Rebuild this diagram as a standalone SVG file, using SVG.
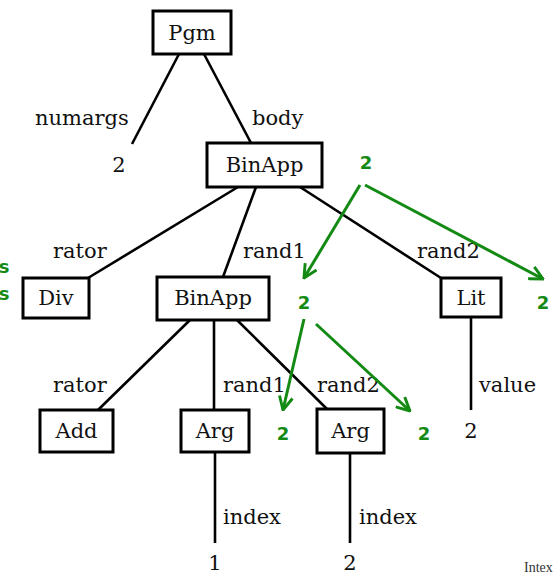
<svg xmlns="http://www.w3.org/2000/svg" width="557" height="574" viewBox="0 0 557 574">
<style>
.box{fill:#fff;stroke:#000;stroke-width:3}
.lbl{font-family:"DejaVu Serif","Liberation Serif",serif;font-size:21px;fill:#111}
.nt{font-family:"DejaVu Serif","Liberation Serif",serif;font-size:21px;fill:#111;text-anchor:middle}
.edge{stroke:#000;stroke-width:2.6;fill:none}
.g{font-family:"DejaVu Sans","Open Sans",sans-serif;font-weight:bold;font-size:18px;fill:#138a13;text-anchor:middle}
.ga{stroke:#138a13;stroke-width:3;fill:none;marker-end:url(#ah)}
</style>
<defs>
<marker id="ah" viewBox="0 0 12 12" refX="11" refY="6" markerWidth="16" markerHeight="16" markerUnits="userSpaceOnUse" orient="auto">
<path d="M1,1 L11,6 L1,11" fill="none" stroke="#138a13" stroke-width="2.2"/>
</marker>
</defs>
<rect width="557" height="574" fill="#fff"/>
<g id="connectors">
<line class="edge" x1="179" y1="54" x2="132" y2="144"/>
<line class="edge" x1="204" y1="54" x2="251" y2="143"/>
<line class="edge" x1="238" y1="187" x2="88" y2="278"/>
<line class="edge" x1="256" y1="187" x2="223" y2="277"/>
<line class="edge" x1="300" y1="187" x2="441" y2="278"/>
<line class="edge" x1="190" y1="320" x2="98" y2="410"/>
<line class="edge" x1="214" y1="320" x2="214" y2="410"/>
<line class="edge" x1="237" y1="320" x2="327" y2="409"/>
<line class="edge" x1="471" y1="317" x2="471" y2="410"/>
<line class="edge" x1="215" y1="453" x2="215" y2="543"/>
<line class="edge" x1="350" y1="453" x2="350" y2="543"/>
<text class="lbl" x="35" y="125">numargs</text>
<text class="lbl" x="252" y="125">body</text>
<text class="lbl" x="53" y="258">rator</text>
<text class="lbl" x="243" y="258">rand1</text>
<text class="lbl" x="417" y="258">rand2</text>
<text class="lbl" x="53" y="392">rator</text>
<text class="lbl" x="223" y="392">rand1</text>
<text class="lbl" x="317" y="392">rand2</text>
<text class="lbl" x="479" y="392">value</text>
<text class="lbl" x="223" y="524">index</text>
<text class="lbl" x="359" y="524">index</text>
</g>
<g id="pgm"><rect class="box" x="153" y="11" width="78" height="43"/><text class="nt" x="192" y="40">Pgm</text></g>
<g id="numargs-val"><text class="nt" x="119" y="172">2</text></g>
<g id="binapp1"><rect class="box" x="207" y="143" width="115" height="44"/><text class="nt" x="264.5" y="172">BinApp</text></g>
<g id="div"><rect class="box" x="23" y="278" width="66" height="40"/><text class="nt" x="56" y="305">Div</text></g>
<g id="binapp2"><rect class="box" x="157" y="277" width="112" height="43"/><text class="nt" x="213" y="305">BinApp</text></g>
<g id="lit"><rect class="box" x="441" y="278" width="60" height="39"/><text class="nt" x="471" y="305">Lit</text></g>
<g id="lit-val"><text class="nt" x="471" y="438">2</text></g>
<g id="add"><rect class="box" x="40" y="410" width="73" height="42"/><text class="nt" x="76.5" y="438">Add</text></g>
<g id="arg1"><rect class="box" x="181" y="410" width="68" height="42"/><text class="nt" x="215" y="438">Arg</text></g>
<g id="arg1-val"><text class="nt" x="215" y="570">1</text></g>
<g id="arg2"><rect class="box" x="317" y="409" width="67" height="44"/><text class="nt" x="350.5" y="438">Arg</text></g>
<g id="arg2-val"><text class="nt" x="350" y="570">2</text></g>
<g id="annotations">
<text class="g" x="366" y="169">2</text>
<text class="g" x="304" y="309">2</text>
<text class="g" x="543" y="309">2</text>
<text class="g" x="283" y="440">2</text>
<text class="g" x="424" y="440">2</text>
<text class="g" x="4" y="273">s</text>
<text class="g" x="4" y="300">s</text>
<line class="ga" x1="360" y1="185" x2="304" y2="278"/>
<line class="ga" x1="365" y1="185" x2="543" y2="279"/>
<line class="ga" x1="304" y1="319" x2="283" y2="410"/>
<line class="ga" x1="316" y1="324" x2="410" y2="411"/>
</g>
<text x="524" y="572" font-family="Liberation Serif,serif" font-size="14" fill="#333">Intex</text>
</svg>
